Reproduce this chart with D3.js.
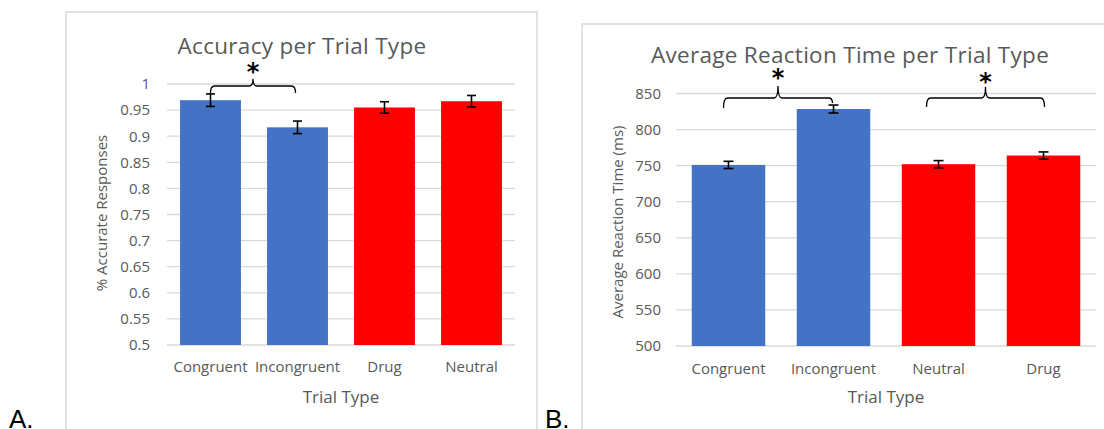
<!DOCTYPE html>
<html>
<head>
<meta charset="utf-8">
<script src="https://cdn.jsdelivr.net/npm/d3@7"></script>
<style>
  html, body { margin: 0; padding: 0; background: #fff; }
  svg { display: block; }
</style>
</head>
<body>
<svg id="chart" width="1104" height="429"></svg>
<script>
// ---------- Data ----------
const categoriesA = ["Congruent", "Incongruent", "Drug", "Neutral"];
const valuesA = [0.969, 0.917, 0.955, 0.967];
const errorsA = [0.012, 0.012, 0.011, 0.011];
const groupA = ["cond", "cond", "drug", "drug"];
const ticksA = [0.5, 0.55, 0.6, 0.65, 0.7, 0.75, 0.8, 0.85, 0.9, 0.95, 1];
const tickLabelsA = ["0.5", "0.55", "0.6", "0.65", "0.7", "0.75", "0.8", "0.85", "0.9", "0.95", "1"];
const bracketsA = [["Congruent", "Incongruent"]];

const categoriesB = ["Congruent", "Incongruent", "Neutral", "Drug"];
const valuesB = [751, 828.5, 752, 764];
const errorsB = [5, 5.5, 5, 5];
const groupB = ["cond", "cond", "drug", "drug"];
const ticksB = [500, 550, 600, 650, 700, 750, 800, 850];
const tickLabelsB = ["500", "550", "600", "650", "700", "750", "800", "850"];
const bracketsB = [["Congruent", "Incongruent"], ["Neutral", "Drug"]];

const colorMap = { cond: "#4472C4", drug: "#FF0000" };
const FONT = "'Open Sans', 'Noto Sans', sans-serif";
const TXT = "#595959";

const svg = d3.select("#chart");
svg.append("rect").attr("width", 1104).attr("height", 429).attr("fill", "#fff");

function panel(o) {
  const g = svg.append("g");
  // frame
  g.append("rect")
    .attr("x", o.frame[0]).attr("y", o.frame[1])
    .attr("width", o.frame[2]).attr("height", o.frame[3])
    .attr("fill", "none").attr("stroke", "#d9d9d9").attr("stroke-width", 1.5);

  const x = d3.scaleBand().domain(o.cats).range([o.left, o.right]).paddingInner(o.pad).paddingOuter(o.pad / 2);
  const y = d3.scaleLinear().domain(o.domain).range([o.bottom, o.top]);

  // gridlines
  g.append("g").selectAll("line").data(o.ticks).join("line")
    .attr("x1", o.left).attr("x2", o.right)
    .attr("y1", d => y(d)).attr("y2", d => y(d))
    .attr("stroke", "#d9d9d9").attr("stroke-width", 1.3);

  // y axis labels via d3 axis
  const yAxis = d3.axisLeft(y).tickValues(o.ticks).tickSize(0).tickPadding(o.tickPad)
    .tickFormat((d, i) => o.tickLabels[i]);
  const ya = g.append("g").attr("transform", `translate(${o.left},0)`).call(yAxis);
  ya.select(".domain").remove();
  ya.selectAll("text").attr("font-family", FONT).attr("font-size", 15).attr("fill", TXT);

  // bars
  g.append("g").selectAll("rect").data(o.vals).join("rect")
    .attr("x", (d, i) => x(o.cats[i]))
    .attr("width", x.bandwidth())
    .attr("y", d => y(d))
    .attr("height", d => y(o.domain[0]) - y(d))
    .attr("fill", (d, i) => colorMap[o.groups[i]]);

  // error bars
  const eb = g.append("g").attr("stroke", "#000").attr("stroke-width", 1.6);
  o.vals.forEach((v, i) => {
    const cx = x(o.cats[i]) + x.bandwidth() / 2;
    const e = o.errs[i];
    eb.append("line").attr("x1", cx).attr("x2", cx).attr("y1", y(v + e)).attr("y2", y(v - e));
    eb.append("line").attr("x1", cx - o.cap).attr("x2", cx + o.cap).attr("y1", y(v + e)).attr("y2", y(v + e));
    eb.append("line").attr("x1", cx - o.cap).attr("x2", cx + o.cap).attr("y1", y(v - e)).attr("y2", y(v - e));
  });

  // x axis labels via d3 axis
  const xAxis = d3.axisBottom(x).tickSize(0).tickPadding(o.xPad);
  const xa = g.append("g").attr("transform", `translate(0,${o.bottom})`).call(xAxis);
  xa.select(".domain").remove();
  xa.selectAll("text").attr("font-family", FONT).attr("font-size", 15).attr("fill", TXT);

  // titles
  g.append("text").attr("x", o.titleX).attr("y", o.titleY).attr("text-anchor", "middle")
    .attr("font-family", FONT).attr("font-size", 22.5).attr("letter-spacing", 0.3)
    .attr("fill", TXT).text(o.title);
  g.append("text").attr("x", (o.left + o.right) / 2).attr("y", o.xTitleY).attr("text-anchor", "middle")
    .attr("font-family", FONT).attr("font-size", 17).attr("fill", TXT).text("Trial Type");
  g.append("text").attr("transform", `translate(${o.yTitleX},${o.yTitleY}) rotate(-90)`)
    .attr("text-anchor", "middle").attr("font-family", FONT).attr("font-size", 15).attr("fill", TXT)
    .text(o.yTitle);

  // significance brackets
  o.brackets.forEach((b, k) => {
    const spec = o.bracketSpec[k];
    const x1 = x(b[0]) + x.bandwidth() / 2 + spec.dx1;
    const x2 = x(b[1]) + x.bandwidth() / 2 + spec.dx2;
    const xm = (x1 + x2) / 2;
    const yh = spec.yh, r = 4;
    const p = d3.path();
    p.moveTo(x1, spec.yl);
    p.quadraticCurveTo(x1, yh, x1 + r, yh);
    p.lineTo(xm - r, yh);
    p.quadraticCurveTo(xm, yh, xm, spec.yp);
    p.quadraticCurveTo(xm, yh, xm + r, yh);
    p.lineTo(x2 - r, yh);
    p.quadraticCurveTo(x2, yh, x2, spec.yr);
    g.append("path").attr("d", p.toString()).attr("fill", "none")
      .attr("stroke", "#000").attr("stroke-width", 1.3);
    g.append("text").attr("x", xm).attr("y", spec.ya).attr("text-anchor", "middle")
      .attr("font-family", "'DejaVu Sans', sans-serif").attr("font-weight", "bold")
      .attr("font-size", 24).attr("fill", "#000").text("*");
  });

  // panel letter
  svg.append("text").attr("x", o.letterX).attr("y", 428).attr("font-family", "'Liberation Sans', Arial, sans-serif")
    .attr("font-size", 26).attr("fill", "#000").text(o.letter);
}

panel({
  frame: [66, 12, 471, 430],
  cats: categoriesA, vals: valuesA, errs: errorsA, groups: groupA,
  ticks: ticksA, tickLabels: tickLabelsA, domain: [0.5, 1],
  left: 167, right: 515, top: 84, bottom: 345, pad: 0.3, tickPad: 17, xPad: 16, cap: 4.5,
  title: "Accuracy per Trial Type", titleX: 302, titleY: 54,
  xTitleY: 403, yTitle: "% Accurate Responses", yTitleX: 107, yTitleY: 213,
  brackets: bracketsA,
  bracketSpec: [{ dx1: 0, dx2: -2, yh: 86, yl: 93, yr: 93, yp: 79, ya: 80 }],
  letter: "A.", letterX: 9
});

panel({
  frame: [582, 24, 540, 420],
  cats: categoriesB, vals: valuesB, errs: errorsB, groups: groupB,
  ticks: ticksB, tickLabels: tickLabelsB, domain: [500, 850],
  left: 676, right: 1096, top: 93.5, bottom: 346, pad: 0.3, tickPad: 15, xPad: 17, cap: 5,
  title: "Average Reaction Time per Trial Type", titleX: 850, titleY: 63,
  xTitleY: 403, yTitle: "Average Reaction Time (ms)", yTitleX: 623, yTitleY: 222,
  brackets: bracketsB,
  bracketSpec: [
    { dx1: -5, dx2: -1, yh: 98, yl: 108, yr: 103, yp: 86, ya: 86 },
    { dx1: -12, dx2: 1, yh: 98, yl: 107, yr: 107, yp: 87, ya: 90 }
  ],
  letter: "B.", letterX: 545
});
</script>
</body>
</html>
